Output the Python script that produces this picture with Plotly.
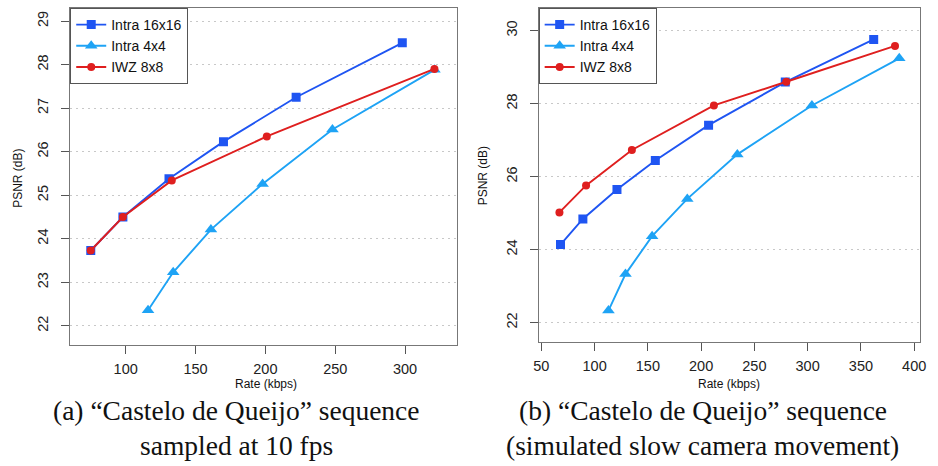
import plotly.graph_objects as go

W, H = 938, 466

# ---- data: panel (a) ----
a_i16_x = [75, 98, 131, 170, 222, 298]
a_i16_y = [23.73, 24.5, 25.38, 26.23, 27.25, 28.5]
a_i4_x = [116, 134, 161, 198, 248, 321]
a_i4_y = [22.36, 23.23, 24.21, 25.26, 26.51, 27.88]
a_iwz_x = [75, 98, 133, 201, 321]
a_iwz_y = [23.73, 24.5, 25.34, 26.35, 27.9]

# ---- data: panel (b) ----
b_i16_x = [68, 89, 121, 157, 207, 279, 362]
b_i16_y = [24.14, 24.84, 25.65, 26.44, 27.41, 28.59, 29.76]
b_i4_x = [113, 129, 154, 187, 234, 304, 386]
b_i4_y = [22.33, 23.33, 24.37, 25.39, 26.61, 27.95, 29.24]
b_iwz_x = [67, 92, 135, 212, 280, 382]
b_iwz_y = [25.02, 25.76, 26.73, 27.95, 28.6, 29.58]

names = ["Intra 16x16", "Intra 4x4", "IWZ 8x8"]
colors = ["#1f55f2", "#1ea3f5", "#df1f1f"]
symbols = ["square", "triangle-up", "circle"]
msizes = [9, 11, 8]

a_xticks = [100, 150, 200, 250, 300]
a_yticks = [22, 23, 24, 25, 26, 27, 28, 29]
b_xticks = [50, 100, 150, 200, 250, 300, 350, 400]
b_yticks = [22, 24, 26, 28, 30]

captions = [
    ("(a) \u201cCastelo de Queijo\u201d sequence", "sampled at 10 fps"),
    ("(b) \u201cCastelo de Queijo\u201d sequence", "(simulated slow camera movement)"),
]

fig = go.Figure()

panels = [
    (a_i16_x, a_i16_y, a_i4_x, a_i4_y, a_iwz_x, a_iwz_y, "x", "y", "legend"),
    (b_i16_x, b_i16_y, b_i4_x, b_i4_y, b_iwz_x, b_iwz_y, "x2", "y2", "legend2"),
]
for p in panels:
    xs = [p[0], p[2], p[4]]
    ys = [p[1], p[3], p[5]]
    for k in range(3):
        fig.add_trace(go.Scatter(
            x=xs[k], y=ys[k], name=names[k], mode="lines+markers",
            line=dict(color=colors[k], width=1.9),
            marker=dict(symbol=symbols[k], size=msizes[k], color=colors[k]),
            xaxis=p[6], yaxis=p[7], legend=p[8],
        ))

def px(v):
    return v / W

def py(v):
    return 1 - v / H

tickfont = dict(family="Liberation Sans, Arial, sans-serif", size=14.5, color="#222")
common_x = dict(showline=True, linecolor="#777", linewidth=1, mirror=True,
                ticks="outside", ticklen=8, tickcolor="#555", showgrid=False,
                zeroline=False, tickfont=tickfont, ticklabelstandoff=3)
common_y = dict(showline=True, linecolor="#777", linewidth=1, mirror=True,
                ticks="outside", ticklen=8, tickcolor="#555", showgrid=True,
                gridcolor="#c8c8c8", griddash="2px,4px", gridwidth=1.3,
                zeroline=False, tickfont=tickfont, tickangle=-90, ticklabelstandoff=7)

legend_style = dict(
    bgcolor="white", bordercolor="#555", borderwidth=1,
    font=dict(family="Liberation Sans, Arial, sans-serif", size=14, color="#111"),
    xanchor="left", yanchor="top", tracegroupgap=0, itemwidth=30,
)

fig.update_layout(
    width=W, height=H, margin=dict(l=0, r=0, t=0, b=0),
    paper_bgcolor="white", plot_bgcolor="white",
    xaxis=dict(domain=[px(66), px(457)], range=[60.3, 336.9], tickvals=a_xticks,
               anchor="y", **common_x),
    yaxis=dict(domain=[py(345), py(8)], range=[21.56, 29.3], tickvals=a_yticks,
               anchor="x", **common_y),
    xaxis2=dict(domain=[px(540), px(926)], range=[47.5, 405.6], tickvals=b_xticks,
                anchor="y2", **common_x),
    yaxis2=dict(domain=[py(342), py(8)], range=[21.47, 30.62], tickvals=b_yticks,
                anchor="x2", **common_y),
    legend=dict(x=px(66), y=py(8), **legend_style),
    legend2=dict(x=px(540), y=py(8), **legend_style),
    showlegend=True,
)

lab = dict(family="Liberation Sans, Arial, sans-serif", size=12, color="#111")
cap = dict(family="Liberation Serif, Times New Roman, serif", size=27.5, color="#111")
ann = [
    dict(text="Rate (kbps)", x=px(264), y=py(384), font=lab),
    dict(text="Rate (kbps)", x=px(733), y=py(384), font=lab),
    dict(text="PSNR (dB)", x=px(13), y=py(178), font=lab, textangle=-90),
    dict(text="PSNR (dB)", x=px(484), y=py(176), font=lab, textangle=-90),
    dict(text=captions[0][0], x=px(234), y=py(410), font=cap),
    dict(text=captions[0][1], x=px(234), y=py(445), font=cap),
    dict(text=captions[1][0], x=px(706), y=py(410), font=cap),
    dict(text=captions[1][1], x=px(706), y=py(445), font=cap),
]
for a in ann:
    fig.add_annotation(xref="paper", yref="paper", showarrow=False,
                       xanchor="center", yanchor="middle", **a)

fig.write_html("out.html")
